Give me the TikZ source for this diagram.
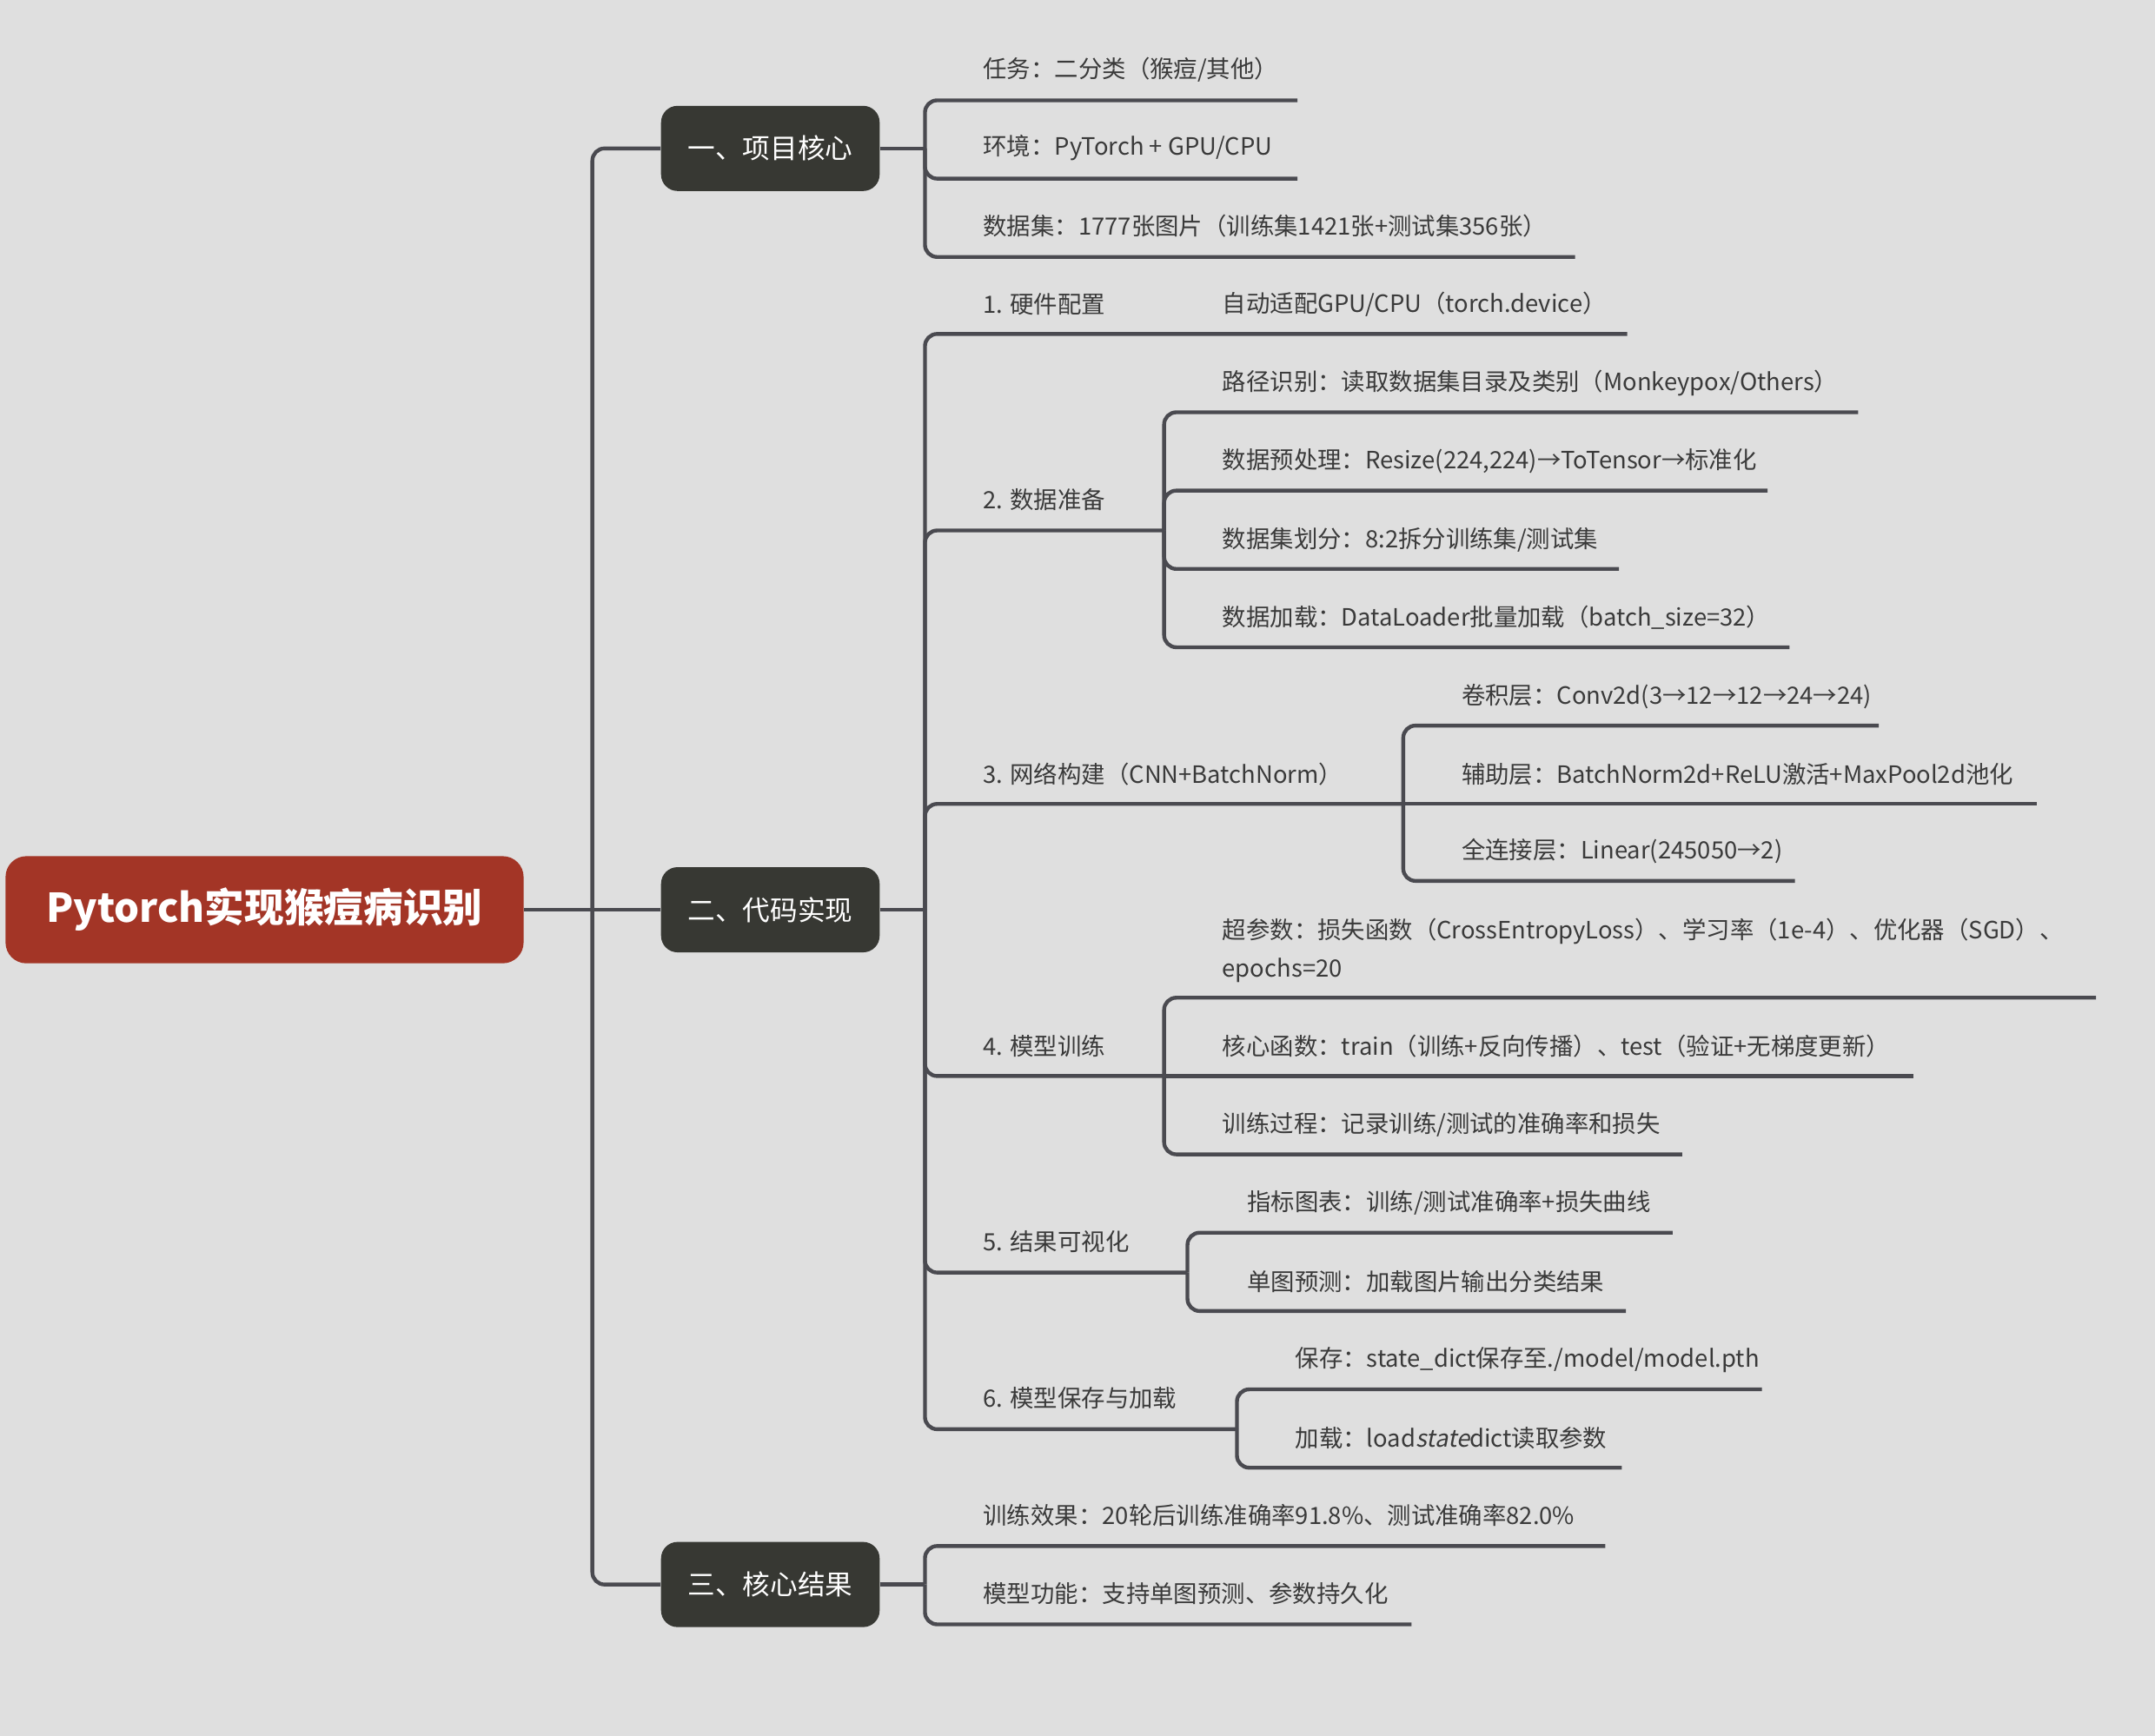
\documentclass[tikz,border=0pt]{standalone}
\usepackage{fontspec}
\setmainfont{Noto Sans CJK SC}
\newfontfamily\slantf[FakeSlant=0.2]{Noto Sans CJK SC}
\definecolor{bgc}{HTML}{DFDFDF}
\definecolor{titlered}{HTML}{A33526}
\definecolor{branchdark}{HTML}{373833}
\definecolor{linec}{HTML}{4A4A50}
\definecolor{txtc}{HTML}{3A3A3A}
\tikzset{
  conn/.style={draw=linec, line width=1.25pt, rounded corners=4pt},
  leaf/.style={anchor=west, inner sep=0pt, yshift=-0.7pt, text=txtc, font=\fontsize{7.8}{12.6}\selectfont},
  branchbox/.style={fill=branchdark, rounded corners=5.4pt, text=white,
    minimum width=71.6pt, minimum height=27.9pt, inner sep=0pt,
    font=\fontsize{9}{11}\selectfont},
  titlebox/.style={fill=titlered, rounded corners=6.8pt, text=white,
    minimum width=169.7pt, minimum height=35.1pt, inner sep=0pt,
    font=\fontsize{13}{15}\selectfont\bfseries},
}
\begin{document}
\begin{tikzpicture}[x=0.015816cm, y=-0.015816cm]
\fill[bgc] (0,0) rectangle (1568,1263);
\useasboundingbox (0,0) rectangle (1568,1263);

% root and branches
\node[titlebox] (title) at (192.5,662) {Pytorch实现猴痘病识别};
\node[branchbox] (b1) at (560.5,108) {一、项目核心};
\node[branchbox] (b2) at (560.5,662) {二、代码实现};
\node[branchbox] (b3) at (560.5,1153) {三、核心结果};

\coordinate (trunk) at (431,662);
\draw[conn] (title.east) -- (b2.west);
\draw[conn] (trunk) |- (b1.west);
\draw[conn] (trunk) |- (b3.west);

% ---------- branch 1
\coordinate (j1) at (673,108);
\draw[conn] (b1.east) -- (j1);
\node[leaf] (l11) at (715,49) {任务：二分类（猴痘/其他）};
\node[leaf] (l12) at (715,106) {环境：PyTorch + GPU/CPU};
\node[leaf] (l13) at (715,163) {数据集：1777张图片（训练集1421张+测试集356张）};
\coordinate (l11e) at (944,73);
\coordinate (l12e) at (944,130);
\coordinate (l13e) at (1146,187);
\draw[conn] (j1) |- (l11e);
\draw[conn] (j1) |- (l12e);
\draw[conn] (j1) |- (l13e);

% ---------- branch 2
\coordinate (j2) at (673,662);
\draw[conn] (b2.east) -- (j2);

% 1
\node[leaf] (s1) at (715,220) {1. 硬件配置};
\node[leaf] (s1a) at (889,220) {自动适配GPU/CPU（torch.device）};
\coordinate (s1ae) at (1184,243);
\draw[conn] (j2) |- (s1ae);

% 2
\node[leaf] (s2) at (715,362) {2. 数据准备};
\coordinate (s2j) at (847,386);
\draw[conn] (j2) |- (s2j);
\node[leaf] (s2a) at (889,277) {路径识别：读取数据集目录及类别（Monkeypox/Others）};
\node[leaf] (s2b) at (889,334) {数据预处理：Resize(224,224)→ToTensor→标准化};
\node[leaf] (s2c) at (889,391) {数据集划分：8:2拆分训练集/测试集};
\node[leaf] (s2d) at (889,448) {数据加载：DataLoader批量加载（batch\_size=32）};
\coordinate (s2ae) at (1352,300);
\coordinate (s2be) at (1286,357);
\coordinate (s2ce) at (1178,414);
\coordinate (s2de) at (1302,471);
\draw[conn] (s2j) |- (s2ae);
\draw[conn] (s2j) |- (s2be);
\draw[conn] (s2j) |- (s2ce);
\draw[conn] (s2j) |- (s2de);

% 3
\node[leaf] (s3) at (715,562) {3. 网络构建（CNN+BatchNorm）};
\coordinate (s3j) at (1021,585);
\draw[conn] (j2) |- (s3j);
\node[leaf] (s3a) at (1063,505) {卷积层：Conv2d(3→12→12→24→24)};
\node[leaf] (s3b) at (1063,562) {辅助层：BatchNorm2d+ReLU激活+MaxPool2d池化};
\node[leaf] (s3c) at (1063,618) {全连接层：Linear(245050→2)};
\coordinate (s3ae) at (1367,528);
\coordinate (s3be) at (1482,585);
\coordinate (s3ce) at (1306,641);
\draw[conn] (s3j) |- (s3ae);
\draw[conn] (s3j) -- (s3be);
\draw[conn] (s3j) |- (s3ce);

% 4
\node[leaf] (s4) at (715,760) {4. 模型训练};
\coordinate (s4j) at (847,783);
\draw[conn] (j2) |- (s4j);
\node[leaf, align=left] (s4a) at (889,690) {超参数：损失函数（CrossEntropyLoss）、学习率（1e-4）、优化器（SGD）、\\epochs=20};
\node[leaf] (s4b) at (889,760) {核心函数：train（训练+反向传播）、test（验证+无梯度更新）};
\node[leaf] (s4c) at (889,817) {训练过程：记录训练/测试的准确率和损失};
\coordinate (s4ae) at (1525,726);
\coordinate (s4be) at (1392,783);
\coordinate (s4ce) at (1224,840);
\draw[conn] (s4j) |- (s4ae);
\draw[conn] (s4j) -- (s4be);
\draw[conn] (s4j) |- (s4ce);

% 5
\node[leaf] (s5) at (715,902) {5. 结果可视化};
\coordinate (s5j) at (864,926);
\draw[conn] (j2) |- (s5j);
\node[leaf] (s5a) at (907,874) {指标图表：训练/测试准确率+损失曲线};
\node[leaf] (s5b) at (907,931) {单图预测：加载图片输出分类结果};
\coordinate (s5ae) at (1217,897);
\coordinate (s5be) at (1183,954);
\draw[conn] (s5j) |- (s5ae);
\draw[conn] (s5j) |- (s5be);

% 6
\node[leaf] (s6) at (715,1016) {6. 模型保存与加载};
\coordinate (s6j) at (900,1040);
\draw[conn] (j2) |- (s6j);
\node[leaf] (s6a) at (942,988) {保存：state\_dict保存至./model/model.pth};
\node[leaf] (s6b) at (942,1045) {加载：load{\slantf state}dict读取参数};
\coordinate (s6ae) at (1282,1011);
\coordinate (s6be) at (1180,1068);
\draw[conn] (s6j) |- (s6ae);
\draw[conn] (s6j) |- (s6be);

% ---------- branch 3
\coordinate (j3) at (673,1153);
\draw[conn] (b3.east) -- (j3);
\node[leaf] (l31) at (715,1101) {训练效果：20轮后训练准确率91.8\%、测试准确率82.0\%};
\node[leaf] (l32) at (715,1158) {模型功能：支持单图预测、参数持久化};
\coordinate (l31e) at (1168,1125);
\coordinate (l32e) at (1027,1182);
\draw[conn] (j3) |- (l31e);
\draw[conn] (j3) |- (l32e);
\end{tikzpicture}
\end{document}
